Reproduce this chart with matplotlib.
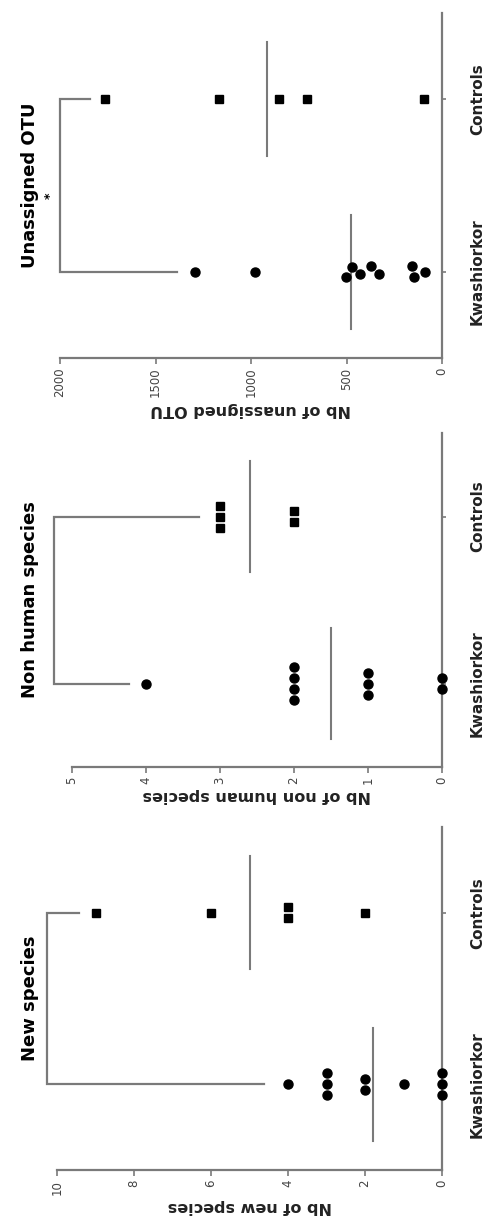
import numpy as np
import matplotlib.pyplot as plt
from matplotlib.transforms import blended_transform_factory

# the figure is stored rotated by 90 degrees: values run right -> left,
# the two groups sit one above the other
groups = ["Kwashiorkor", "Controls"]

titles = ["Unassigned OTU", "Non human species", "New species"]
ylabels = ["Nb of unassigned OTU", "Nb of non human species", "Nb of new species"]

otu_kwash = [1293, 978, 501, 472, 428, 372, 332, 157, 148, 87]
otu_ctrl = [1764, 1170, 851, 707, 96]

nonhuman_kwash = [4, 2, 2, 2, 2, 1, 1, 1, 0, 0]
nonhuman_ctrl = [3, 3, 3, 2, 2]

new_kwash = [4, 3, 3, 3, 2, 2, 1, 0, 0, 0]
new_ctrl = [9, 6, 4, 4, 2]

value_max = [2000, 5, 10]
value_ticks = [[0, 500, 1000, 1500, 2000], [0, 1, 2, 3, 4, 5], [0, 2, 4, 6, 8, 10]]

# significance brackets (bar level, kwashiorkor arm end, controls arm end)
brackets = [(2000, 1389, 1843), (5.25, 4.23, 3.28), (10.26, 4.63, 9.44)]
star_pos = [0.44, 0.49, 0.49]

# axes boxes in pixels of the 488x1223 picture: left, right, top, bottom
boxes = [(60, 442, 13, 358), (72, 442, 433, 767), (57, 442, 827, 1170)]

GREY = "#7a7a7a"
W, H = 488, 1223


def swarm(values, px_val, px_cat, d=11.0):
    values = np.asarray(values, dtype=float)
    placed = []
    offs = np.zeros(len(values))
    for i in np.argsort(values, kind="stable"):
        v = values[i] * px_val
        cands = [0.0]
        for pv, po in placed:
            dv = abs(v - pv)
            if dv < d:
                h = np.sqrt(d ** 2 - dv ** 2)
                cands += [po + h, po - h]
        cands.sort(key=abs)
        for c in cands:
            if all((v - pv) ** 2 + (c - po) ** 2 >= d ** 2 - 1e-6 for pv, po in placed):
                break
        placed.append((v, c))
        offs[i] = c
    # centre every clump of touching points around the group line
    order = np.argsort(values, kind="stable")
    clump = [order[0]]
    for a, b in zip(order[:-1], order[1:]):
        if (values[b] - values[a]) * px_val < d:
            clump.append(b)
        else:
            offs[clump] -= offs[clump].mean()
            clump = [b]
    offs[clump] -= offs[clump].mean()
    return offs / px_cat


fig = plt.figure(figsize=(W / 100, H / 100), dpi=100)

panels = [(otu_kwash, otu_ctrl), (nonhuman_kwash, nonhuman_ctrl), (new_kwash, new_ctrl)]

for k, (kw, ct) in enumerate(panels):
    l, r, t, b = boxes[k]
    ax = fig.add_axes([l / W, 1 - b / H, (r - l) / W, (b - t) / H])
    ax.set_xlim(value_max[k], 0)
    ax.set_ylim(-0.5, 1.5)

    px_val = (r - l) / value_max[k]
    px_cat = (b - t) / 2.0

    # points
    y_kw = 0 + swarm(kw, px_val, px_cat)
    y_ct = 1 + swarm(ct, px_val, px_cat)
    ax.plot(kw, y_kw, "o", color="black", ms=6.5, ls="none", clip_on=False, zorder=3)
    ax.plot(ct, y_ct, "s", color="black", ms=6, ls="none", clip_on=False, zorder=3)

    # mean lines
    for pos, vals in enumerate([kw, ct]):
        m = np.mean(vals)
        ax.plot([m, m], [pos - 0.33, pos + 0.33], color=GREY, lw=1.5)

    # bracket and star
    lev, kw_end, ct_end = brackets[k]
    ax.plot([kw_end, lev, lev, ct_end], [0, 0, 1, 1], color=GREY, lw=1.6,
            clip_on=False, solid_joinstyle="miter")
    ax.annotate("*", xy=(lev, star_pos[k]), xytext=(-7, 0), textcoords="offset points",
                rotation=90, ha="center", va="center", fontsize=9, fontweight="bold")

    # title on the far left
    tr = blended_transform_factory(fig.transFigure, ax.transData)
    ax.text(30 / W, 0.5, titles[k], transform=tr, rotation=90, ha="center",
            va="center", fontsize=13, fontweight="bold")

    # axes styling
    for side in ["top", "left"]:
        ax.spines[side].set_visible(False)
    for side in ["bottom", "right"]:
        ax.spines[side].set_color(GREY)
        ax.spines[side].set_linewidth(1.6)

    ax.set_xticks(value_ticks[k])
    ax.set_xticklabels([str(v) for v in value_ticks[k]], rotation=90,
                       fontsize=8.5, color="#444444")
    ax.tick_params(axis="x", direction="out", length=4, width=1.2, color=GREY, pad=3)

    ax.yaxis.tick_right()
    ax.set_yticks([0, 1])
    ax.set_yticklabels(groups, rotation=90, va="center", fontsize=11,
                       fontweight="bold", color="#222222")
    ax.tick_params(axis="y", direction="out", length=3, width=1.2, color=GREY, pad=17)

    ax.set_xlabel(ylabels[k], rotation=180, fontsize=11.5, fontweight="bold",
                  color="#222222", labelpad=3)

fig.savefig("out.png", dpi=100)
